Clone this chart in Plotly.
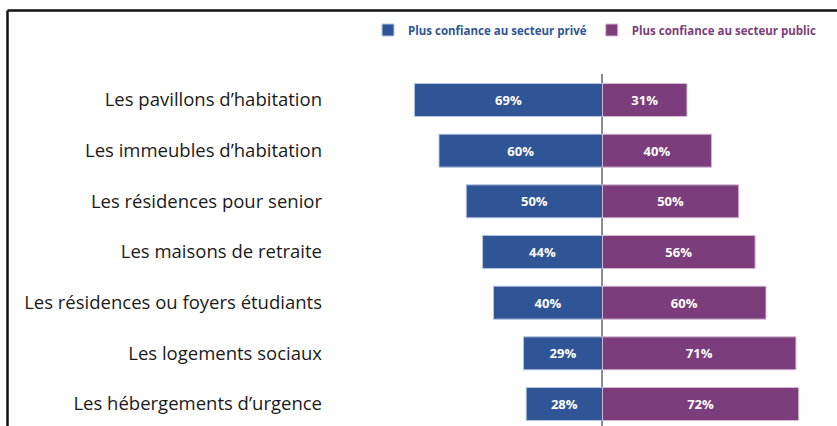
import plotly.graph_objects as go

categories = [
    "Les pavillons d’habitation",
    "Les immeubles d’habitation",
    "Les résidences pour senior",
    "Les maisons de retraite",
    "Les résidences ou foyers étudiants",
    "Les logements sociaux",
    "Les hébergements d’urgence",
]
prive = [69, 60, 50, 44, 40, 29, 28]
public = [31, 40, 50, 56, 60, 71, 72]
name_prive = "Plus confiance au secteur privé"
name_public = "Plus confiance au secteur public"

BLUE = "#2F5597"
PURPLE = "#7B3D7B"
FONT = "Open Sans"

W, H = 837, 426
L, T = 330, 74

fig = go.Figure()
fig.add_trace(go.Bar(
    y=categories, x=[-v for v in prive], orientation="h",
    name=f"<b><span style='color:{BLUE}'>{name_prive}</span></b>",
    marker=dict(color=BLUE, line=dict(color="#B4C3DE", width=1)),
    text=[f"{v}%" for v in prive], textposition="inside",
    insidetextanchor="middle",
    textfont=dict(family=FONT, size=13, color="white", weight="bold"),
))
fig.add_trace(go.Bar(
    y=categories, x=public, orientation="h",
    name=f"<b><span style='color:{PURPLE}'>{name_public}</span></b>",
    marker=dict(color=PURPLE, line=dict(color="#D4B8D4", width=1)),
    text=[f"{v}%" for v in public], textposition="inside",
    insidetextanchor="middle",
    textfont=dict(family=FONT, size=13, color="white", weight="bold"),
))

pw = W - L
ph = H - T

def px_x(p):
    return (p - L) / pw

def px_y(p):
    return (H - p) / ph

fig.update_layout(
    width=W, height=H,
    margin=dict(l=L, r=0, t=T, b=0, pad=0),
    paper_bgcolor="white", plot_bgcolor="white",
    barmode="relative", bargap=0.35,
    font=dict(family=FONT, color="#222222"),
    xaxis=dict(range=[-100, 86.06], showgrid=False, showticklabels=False,
               zeroline=True, zerolinecolor="#8C8C8C", zerolinewidth=1.5,
               fixedrange=True),
    yaxis=dict(range=[6.434, -0.513], showgrid=False, ticks="",
               tickfont=dict(family=FONT, size=18.5, color="#1A1A1A"),
               ticklabelstandoff=7, showline=False),
    showlegend=True,
    legend=dict(orientation="h", x=px_x(368), y=px_y(30), xanchor="left",
                yanchor="middle", font=dict(family=FONT, size=11.5),
                itemwidth=30, traceorder="normal", bgcolor="rgba(0,0,0,0)"),
    shapes=[
        dict(type="line", xref="paper", yref="paper",
             x0=px_x(7.5), x1=px_x(837), y0=px_y(10.5), y1=px_y(10.5),
             line=dict(color="#111111", width=2.5)),
        dict(type="line", xref="paper", yref="paper",
             x0=px_x(7.5), x1=px_x(7.5), y0=px_y(10.5), y1=px_y(426),
             line=dict(color="#111111", width=2.5)),
    ],
)

fig.write_html(
    "out.html",
    config={"displayModeBar": False},
    post_script="document.body.style.margin='0';document.body.style.padding='0';",
)
